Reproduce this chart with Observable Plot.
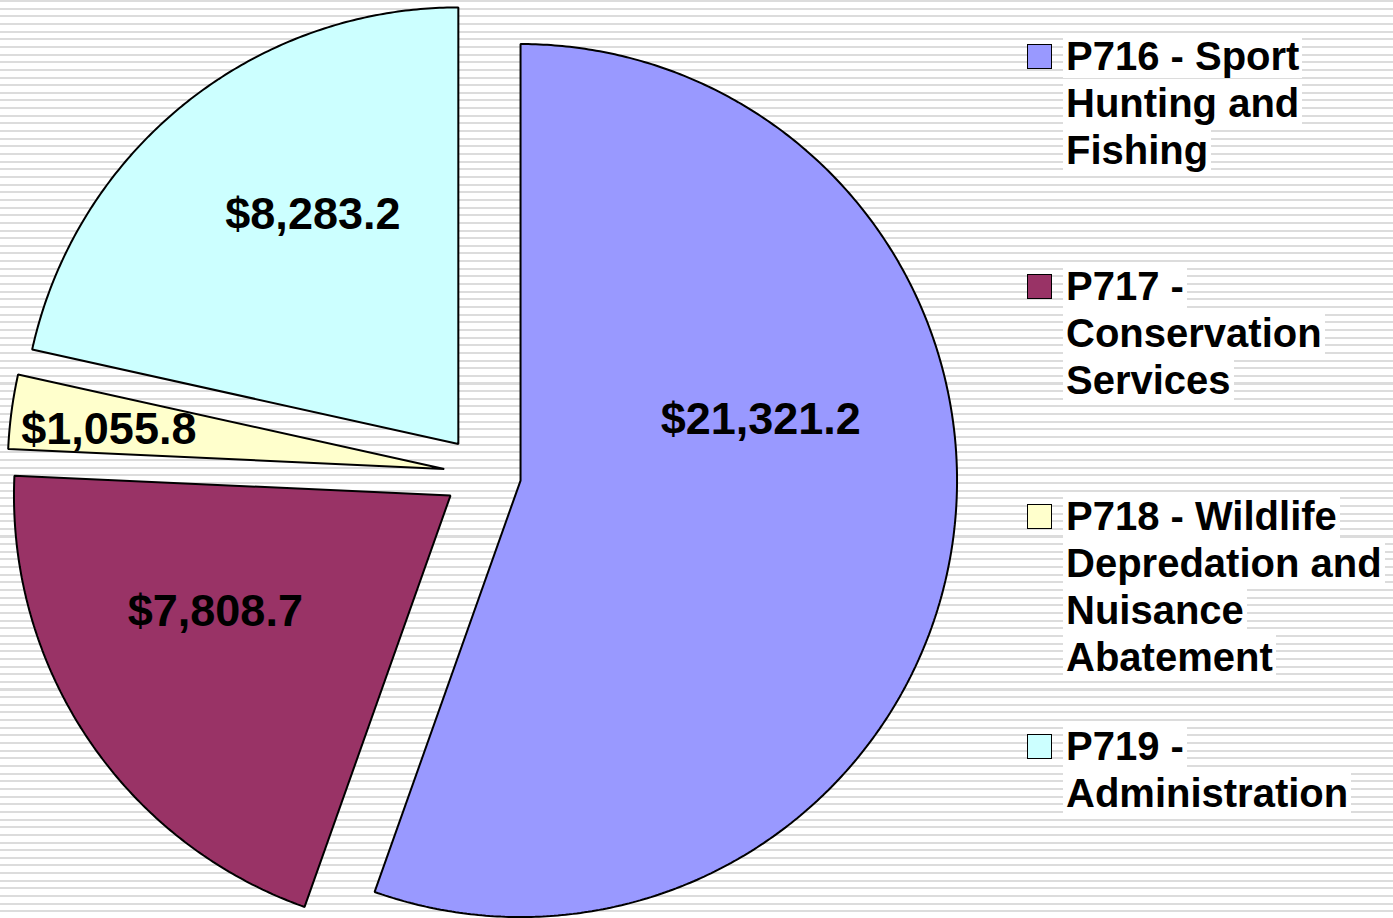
<!DOCTYPE html>
<html>
<head>
<meta charset="utf-8">
<script src="https://cdn.jsdelivr.net/npm/d3@7"></script>
<script src="https://cdn.jsdelivr.net/npm/@observablehq/plot@0.6"></script>
<style>
  html, body { margin: 0; padding: 0; background: #fff; }
  #wrap {
    position: relative; width: 1393px; height: 918px; overflow: hidden;
    background: repeating-linear-gradient(to bottom, #dcdcdc 0px, #dcdcdc 2px, #ffffff 2px, #ffffff 7.65px);
    font-family: "Liberation Sans", Arial, sans-serif;
  }
  #chart { position: absolute; left: 0; top: 0; }
  .item { position: absolute; left: 1027px; }
  .sw { position: absolute; left: 0; width: 23px; height: 23px; border: 1.5px solid #000; }
  .txt { position: absolute; left: 36px; font-weight: bold; font-size: 40px; line-height: 47px; color: #000; white-space: nowrap; }
  .txt span { background: #fff; padding: 0 3px; }
</style>
</head>
<body>
<div id="wrap"><div id="chart"></div><div id="legend"></div></div>
<script>
// ---- data ----
const categories = ["P716", "P717", "P718", "P719"];
const values = [21321.2, 7808.7, 1055.8, 8283.2];
const colors = ["#9999FF", "#993366", "#FFFFCC", "#CCFFFF"];
const legendLines = [
  ["P716 - Sport", "Hunting and", "Fishing"],
  ["P717 -", "Conservation", "Services"],
  ["P718 - Wildlife", "Depredation and", "Nuisance", "Abatement"],
  ["P719 -", "Administration"]
];

// ---- layout (pixels) ----
const W = 1393, H = 918;
const R = 436.5;             // pie radius
const CX = 482, CY = 473.5;  // pie centre
const EXPLODE = 38.6 / R;    // explosion distance, in radius units
// label placement: [angle offset from mid-angle (deg), distance from slice apex (radius units)]
const labelPlace = [[-24.5, 0.569], [8, 0.599], [-0.6, 0.774], [6.6, 0.626]];

const pie = d3.pie().sort(null).value(d => d.value).startAngle(0).endAngle(2 * Math.PI);
const arcs = pie(categories.map((c, i) => ({ name: c, value: values[i] })));

const points = [];
const labels = [];
const fmt = d3.format("$,.1f");
arcs.forEach((a, i) => {
  const mid = (a.startAngle + a.endAngle) / 2;
  const ax = EXPLODE * Math.sin(mid), ay = EXPLODE * Math.cos(mid);
  points.push({ name: a.data.name, x: ax, y: ay });
  const n = Math.max(4, Math.ceil((a.endAngle - a.startAngle) / (Math.PI / 360)));
  for (let k = 0; k <= n; k++) {
    const t = a.startAngle + (a.endAngle - a.startAngle) * k / n;
    points.push({ name: a.data.name, x: ax + Math.sin(t), y: ay + Math.cos(t) });
  }
  const [dA, rl] = labelPlace[i];
  const la = mid + dA * Math.PI / 180;
  labels.push({ name: a.data.name, x: ax + rl * Math.sin(la), y: ay + rl * Math.cos(la), text: fmt(a.data.value) });
});

const chart = Plot.plot({
  width: W, height: H,
  margin: 0,
  style: { background: "transparent", overflow: "visible" },
  x: { domain: [-CX / R, (W - CX) / R], axis: null },
  y: { domain: [-(H - CY) / R, CY / R], axis: null },
  color: { domain: categories, range: colors },
  marks: [
    Plot.line(points, { x: "x", y: "y", z: "name", fill: "name", stroke: "#000", strokeWidth: 2, curve: "linear-closed", strokeLinejoin: "miter" }),
    Plot.text(labels, { x: "x", y: "y", dy: 2, text: "text", fontSize: 45, fontWeight: "bold", fill: "#000", fontFamily: "Liberation Sans, Arial, sans-serif" })
  ]
});
document.getElementById("chart").appendChild(chart);

// ---- legend ----
const legend = document.getElementById("legend");
legendLines.forEach((lines, i) => {
  const item = document.createElement("div");
  item.className = "item";
  item.style.top = (32.6 + i * 230) + "px";
  const sw = document.createElement("div");
  sw.className = "sw";
  sw.style.top = "11px";
  sw.style.background = colors[i];
  item.appendChild(sw);
  const txt = document.createElement("div");
  txt.className = "txt";
  txt.style.top = "0px";
  txt.innerHTML = lines.map(l => `<span>${l}</span>`).join("<br>");
  item.appendChild(txt);
  legend.appendChild(item);
});
</script>
</body>
</html>
